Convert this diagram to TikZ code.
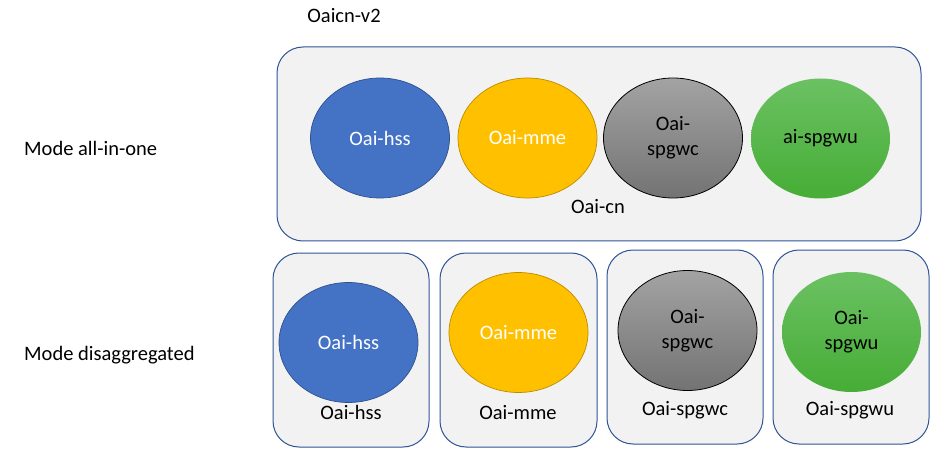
\documentclass[tikz,border=0pt]{standalone}
\usepackage{fontspec}
\setmainfont{Carlito}
\usetikzlibrary{shapes.geometric}
\definecolor{boxfill}{HTML}{F2F2F2}
\definecolor{boxline}{HTML}{2F5597}
\definecolor{hssblue}{HTML}{4472C4}
\definecolor{hssline}{HTML}{2F528F}
\definecolor{mmeorange}{HTML}{FFC000}
\definecolor{mmeline}{HTML}{BC8C00}
\definecolor{graytop}{HTML}{A3A3A3}
\definecolor{graybot}{HTML}{737373}
\definecolor{greentop}{HTML}{6BC162}
\definecolor{greenbot}{HTML}{46AD36}
\tikzset{
  txt/.style={font=\fontsize{20.5}{25}\selectfont, inner sep=0pt, align=center},
  bigbox/.style={draw=boxline, line width=1pt, fill=boxfill, rounded corners=26pt, minimum width=#1, minimum height=194pt, inner sep=0pt},
  ell/.style={ellipse, minimum width=139pt, minimum height=120pt, inner sep=0pt, txt},
  hssell/.style={ell, fill=hssblue, draw=hssline, line width=0.7pt, text=white},
  mmeell/.style={ell, fill=mmeorange, draw=mmeline, line width=0.7pt, text=white},
  gwcell/.style={ell, top color=graytop, bottom color=graybot, draw=black, line width=0.8pt, text=black},
  gwuell/.style={ell, top color=greentop, bottom color=greenbot, text=black},
}
\begin{document}
\begin{tikzpicture}[x=1pt,y=-1pt]
\useasboundingbox[fill=white] (0,0) rectangle (945,465);
% titles
\node[txt] (title) at (344,16) {Oaicn-v2};
\node[txt, anchor=west] (modeall) at (24,148) {Mode all-in-one};
\node[txt, anchor=west] (modedis) at (24,355) {Mode disaggregated};
% all-in-one
\node[bigbox=644pt] (cn) at (599,144) {};
\node[hssell] (hss1) at (380,138) {Oai-hss};
\node[mmeell] (mme1) at (527.5,138) {Oai-mme};
\node[gwcell] (gwc1) at (673,138) {Oai-\\spgwc};
\node[gwuell] (gwu1) at (820.5,138.5) {ai-spgwu};
\node[txt] (cnlbl) at (598,207) {Oai-cn};
% disaggregated
\node[bigbox=156pt] (b1) at (351,350) {};
\node[bigbox=157pt] (b2) at (518.5,350) {};
\node[bigbox=156pt] (b3) at (685,347) {};
\node[bigbox=156pt] (b4) at (851,347) {};
\node[hssell] (hss2) at (348.5,342.5) {Oai-hss};
\node[mmeell] (mme2) at (518.5,332.5) {Oai-mme};
\node[gwcell] (gwc2) at (687.5,330.5) {Oai-\\spgwc};
\node[gwuell] (gwu2) at (851.5,332) {Oai-\\spgwu};
\node[txt] (l1) at (351,412) {Oai-hss};
\node[txt] (l2) at (518,413) {Oai-mme};
\node[txt] (l3) at (685,410) {Oai-spgwc};
\node[txt] (l4) at (850,410) {Oai-spgwu};
\end{tikzpicture}
\end{document}
